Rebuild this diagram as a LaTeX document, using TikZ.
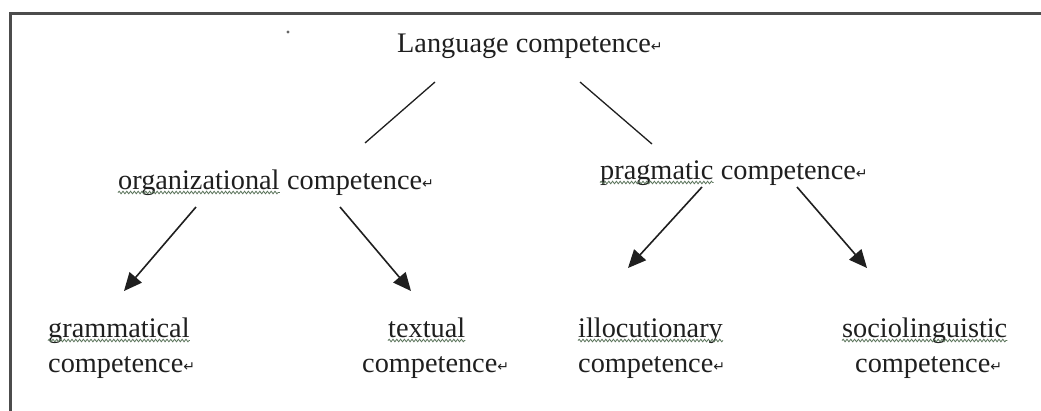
\documentclass[tikz,border=0pt]{standalone}
\usepackage{fontspec}
\setmainfont{Liberation Serif}
\newfontfamily\arrfont{DejaVu Sans}
\usetikzlibrary{arrows.meta,decorations.pathmorphing}
\definecolor{sq}{rgb}{0.36,0.46,0.36}
\definecolor{ink}{rgb}{0.12,0.12,0.12}
\definecolor{framec}{rgb}{0.30,0.30,0.30}
\newcommand\ret{{\arrfont\fontsize{14}{14}\selectfont\raisebox{1pt}{\textcolor{ink}{↵}}}}
\tikzset{
  lbl/.style={inner sep=0pt, text=ink, font=\fontsize{28.3}{32}\selectfont},
  tie/.style={draw=ink, line width=1.3pt},
  arr/.style={draw=ink, line width=1.6pt, -{Triangle[length=18pt,width=16pt]}},
  wavy/.style={draw=sq, line width=0.8pt, decorate, decoration={snake, amplitude=1.3pt, segment length=3.8pt}},
}
\newcommand\squig[1]{\draw[wavy] ([yshift=-3.5pt]#1.base west) -- ([yshift=-3.5pt]#1.base east);}
\begin{document}
\begin{tikzpicture}[x=1pt,y=-1pt]
\useasboundingbox (0,0) rectangle (1041,410);
\fill[white] (0,0) rectangle (1041,410);
% frame (cut at right and bottom)
\draw[framec, line width=3pt] (10,412) -- (10,13) -- (1043,13);
% stray dot
\fill[gray!80!black] (288,32) circle (1.7);
% labels
\node[lbl, anchor=base west] (lang) at (397,52) {Language competence\ret};
\node[lbl, anchor=base west] (orgw) at (118,189) {organizational};
\node[lbl, anchor=base west] (org) at ([xshift=7.1pt]orgw.base east) {competence\ret};
\node[lbl, anchor=base west] (pragw) at (600,179) {pragmatic};
\node[lbl, anchor=base west] (prag) at ([xshift=7.1pt]pragw.base east) {competence\ret};
\node[lbl, anchor=base west] (gram1) at (48,337) {grammatical};
\node[lbl, anchor=base west] (gram2) at (48,372) {competence\ret};
\node[lbl, anchor=base west] (text1) at (388,337) {textual};
\node[lbl, anchor=base west] (text2) at (362,372) {competence\ret};
\node[lbl, anchor=base west] (illo1) at (578,337) {illocutionary};
\node[lbl, anchor=base west] (illo2) at (578,372) {competence\ret};
\node[lbl, anchor=base west] (soc1) at (842,337) {sociolinguistic};
\node[lbl, anchor=base west] (soc2) at (855,372) {competence\ret};
% spell-check underlines
\squig{orgw}
\squig{pragw}
\squig{gram1}
\squig{text1}
\squig{illo1}
\squig{soc1}
% connector end points
\coordinate (lA) at (435,82);
\coordinate (lB) at (365,143);
\coordinate (rA) at (580,82);
\coordinate (rB) at (652,144);
\coordinate (oA) at (196,207);
\coordinate (oAt) at (124,291);
\coordinate (oB) at (340,207);
\coordinate (oBt) at (411,291);
\coordinate (pA) at (702,187);
\coordinate (pAt) at (628,268);
\coordinate (pB) at (797,187);
\coordinate (pBt) at (867,268);
% connectors
\draw[tie] (lA) -- (lB);
\draw[tie] (rA) -- (rB);
\draw[arr] (oA) -- (oAt);
\draw[arr] (oB) -- (oBt);
\draw[arr] (pA) -- (pAt);
\draw[arr] (pB) -- (pBt);
\end{tikzpicture}
\end{document}
